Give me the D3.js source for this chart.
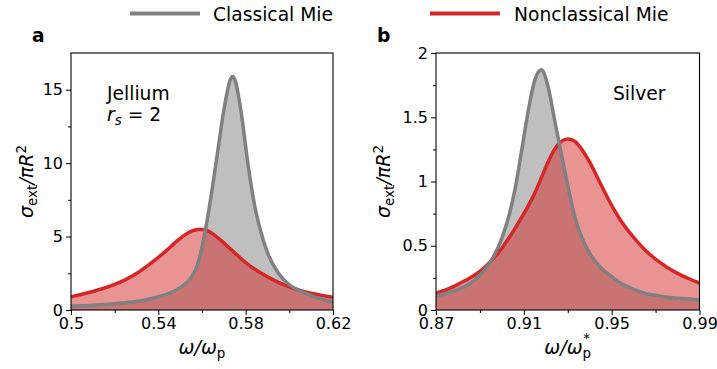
<!DOCTYPE html>
<html>
<head>
<meta charset="utf-8">
<script src="https://cdn.jsdelivr.net/npm/d3@7"></script>
<style>
  body { margin: 0; background: #fff; }
  svg text { font-family: "DejaVu Sans", sans-serif; fill: #000; }
  .axis path, .axis line { stroke: #000; stroke-width: 1; }
</style>
</head>
<body>
<div id="container"></div>
<script>
// panel a: jellium, rs = 2
const xA = [0.500, 0.505, 0.510, 0.515, 0.520, 0.525, 0.530, 0.535, 0.540, 0.545, 0.550, 0.555, 0.558, 0.561, 0.564, 0.567, 0.570, 0.572, 0.573, 0.574, 0.575, 0.576, 0.578, 0.581, 0.584, 0.587, 0.590, 0.595, 0.600, 0.605, 0.610, 0.615, 0.620]
const classicalA = [0.27, 0.29, 0.32, 0.37, 0.42, 0.50, 0.58, 0.72, 0.90, 1.14, 1.52, 2.2, 3.1, 5.0, 7.6, 10.6, 13.6, 15.15, 15.7, 15.9, 15.7, 15.15, 13.4, 10.0, 7.2, 5.3, 3.9, 2.5, 1.72, 1.3, 0.98, 0.75, 0.56]
const nonclassicalA = [0.90, 1.07, 1.26, 1.48, 1.74, 2.07, 2.48, 3.00, 3.58, 4.22, 4.88, 5.35, 5.48, 5.48, 5.27, 4.95, 4.57, 4.30, 4.16, 4.03, 3.89, 3.76, 3.49, 3.11, 2.80, 2.52, 2.26, 1.88, 1.57, 1.33, 1.14, 0.99, 0.87]

// panel b: silver
const xB = [0.870, 0.875, 0.880, 0.885, 0.890, 0.895, 0.900, 0.903, 0.906, 0.909, 0.912, 0.915, 0.918, 0.921, 0.924, 0.927, 0.930, 0.933, 0.936, 0.940, 0.945, 0.950, 0.955, 0.960, 0.965, 0.970, 0.975, 0.980, 0.985, 0.990]
const classicalB = [0.11, 0.13, 0.16, 0.20, 0.27, 0.38, 0.56, 0.72, 0.94, 1.24, 1.55, 1.79, 1.87, 1.74, 1.48, 1.22, 0.97, 0.74, 0.58, 0.44, 0.33, 0.26, 0.20, 0.16, 0.13, 0.115, 0.10, 0.092, 0.085, 0.078]
const nonclassicalB = [0.13, 0.16, 0.20, 0.245, 0.30, 0.38, 0.48, 0.555, 0.635, 0.72, 0.81, 0.91, 1.03, 1.15, 1.25, 1.31, 1.33, 1.315, 1.26, 1.15, 0.98, 0.815, 0.675, 0.565, 0.47, 0.395, 0.335, 0.285, 0.245, 0.21]

const xTicksA = [0.5, 0.54, 0.58, 0.62], xMinorA = [0.52, 0.56, 0.60]
const yTicksA = [0, 5, 10, 15], yMinorA = [2.5, 7.5, 12.5]
const xTicksB = [0.87, 0.91, 0.95, 0.99], xMinorB = [0.89, 0.93, 0.97]
const yTicksB = [0, 0.5, 1, 1.5, 2], yMinorB = [0.25, 0.75, 1.25, 1.75]

const legendLabels = ["Classical Mie", "Nonclassical Mie"]
const colors = ["#808080", "#d62728"]

const width = 717, height = 369

const svg = d3.select("#container")
    .append("svg")
        .attr("width", width)
        .attr("height", height)

// legend
const legend = svg.append("g")
legend.selectAll("line")
    .data([130, 430])
    .join("line")
    .attr("x1", d => d).attr("x2", d => d + 70)
    .attr("y1", 13.5).attr("y2", 13.5)
    .attr("stroke", (d, i) => colors[i])
    .attr("stroke-width", 3.8)
legend.selectAll("text")
    .data([213, 514])
    .join("text")
    .attr("x", d => d).attr("y", 20.5)
    .style("font-size", "18.7px")
    .text((d, i) => legendLabels[i])

function panel(opt){
    const {left, right, top, bottom} = opt
    const g = svg.append("g")

    const x = d3.scaleLinear().domain(opt.xDomain).range([left, right])
    const y = d3.scaleLinear().domain(opt.yDomain).range([bottom, top])

    const clipId = "clip" + opt.name
    svg.append("clipPath").attr("id", clipId)
        .append("rect").attr("x", left).attr("y", top)
        .attr("width", right - left).attr("height", bottom - top)

    const plot = g.append("g").attr("clip-path", `url(#${clipId})`)
    const series = [opt.classical, opt.nonclassical]

    const area = d3.area().x(d => x(d[0])).y0(y(0)).y1(d => y(d[1])).curve(d3.curveMonotoneX)
    const line = d3.line().x(d => x(d[0])).y(d => y(d[1])).curve(d3.curveMonotoneX)

    series.forEach((s, i) => {
        plot.append("path")
            .datum(opt.xs.map((v, j) => [v, s[j]]))
            .attr("d", area)
            .attr("fill", colors[i])
            .attr("fill-opacity", 0.5)
    })
    ;[1, 0].forEach(i => {
        plot.append("path")
            .datum(opt.xs.map((v, j) => [v, series[i][j]]))
            .attr("d", line)
            .attr("fill", "none")
            .attr("stroke", colors[i])
            .attr("stroke-width", 3.5)
            .attr("stroke-linejoin", "round")
    })

    // axes
    g.append("g").attr("class", "axis")
        .attr("transform", `translate(0,${bottom})`)
        .call(d3.axisBottom(x).tickValues(opt.xTicks).tickSize(5).tickPadding(3).tickFormat(d => String(d)))
        .call(a => a.select(".domain").remove())
        .selectAll("text").style("font-size", "16px")
    g.append("g").attr("class", "axis")
        .attr("transform", `translate(0,${bottom})`)
        .call(d3.axisBottom(x).tickValues(opt.xMinor).tickSize(3).tickFormat(""))
        .call(a => a.select(".domain").remove())
    g.append("g").attr("class", "axis")
        .attr("transform", `translate(${left},0)`)
        .call(d3.axisLeft(y).tickValues(opt.yTicks).tickSize(5).tickPadding(3).tickFormat(d => String(d)))
        .call(a => a.select(".domain").remove())
        .selectAll("text").style("font-size", "16px")
    g.append("g").attr("class", "axis")
        .attr("transform", `translate(${left},0)`)
        .call(d3.axisLeft(y).tickValues(opt.yMinor).tickSize(3).tickFormat(""))
        .call(a => a.select(".domain").remove())

    // frame
    g.append("rect")
        .attr("x", left).attr("y", top)
        .attr("width", right - left).attr("height", bottom - top)
        .attr("fill", "none").attr("stroke", "#000").attr("stroke-width", 1.1)

    // panel letter
    g.append("text")
        .attr("x", opt.letterX).attr("y", 42)
        .style("font-size", "18.7px").style("font-weight", "bold")
        .text(opt.name)

    // y label
    const yl = g.append("text")
        .attr("transform", `translate(${opt.yLabelX},${(top + bottom) / 2}) rotate(-90)`)
        .attr("text-anchor", "middle")
        .style("font-size", "19px")
    yl.append("tspan").style("font-style", "italic").text("σ")
    yl.append("tspan").attr("dy", 4).style("font-size", "13.5px").text("ext")
    yl.append("tspan").attr("dy", -4).style("font-style", "italic").text("/πR")
    yl.append("tspan").attr("dy", -7).style("font-size", "13.5px").text("2")

    // x label
    const xl = g.append("text")
        .attr("x", (left + right) / 2).attr("y", 354)
        .attr("text-anchor", "middle")
        .style("font-size", "19px")
    xl.append("tspan").style("font-style", "italic").text("ω/ω")
    xl.append("tspan").attr("dy", 4).style("font-size", "13.5px").text("p")
    if (opt.star) {
        xl.append("tspan").attr("dx", -8).attr("dy", -15).style("font-size", "13.5px").text("*")
    }

    opt.annotate(g)
}

panel({
    name: "a", left: 71, right: 333, top: 53, bottom: 310,
    xDomain: [0.5, 0.62], yDomain: [0, 17.5],
    xs: xA, classical: classicalA, nonclassical: nonclassicalA,
    xTicks: xTicksA, xMinor: xMinorA, yTicks: yTicksA, yMinor: yMinorA,
    letterX: 32, yLabelX: 33, star: false,
    annotate: g => {
        g.append("text").attr("x", 107).attr("y", 100).style("font-size", "18.7px").text("Jellium")
        const t = g.append("text").attr("x", 107).attr("y", 121).style("font-size", "18.7px")
        t.append("tspan").style("font-style", "italic").text("r")
        t.append("tspan").attr("dy", 4).style("font-size", "13.5px").style("font-style", "italic").text("s")
        t.append("tspan").attr("dy", -4).text(" = 2")
    }
})

panel({
    name: "b", left: 436, right: 699.5, top: 53, bottom: 310,
    xDomain: [0.87, 0.99], yDomain: [0, 2],
    xs: xB, classical: classicalB, nonclassical: nonclassicalB,
    xTicks: xTicksB, xMinor: xMinorB, yTicks: yTicksB, yMinor: yMinorB,
    letterX: 377, yLabelX: 390, star: true,
    annotate: g => {
        g.append("text").attr("x", 613).attr("y", 100).style("font-size", "18.7px").text("Silver")
    }
})
</script>
</body>
</html>
